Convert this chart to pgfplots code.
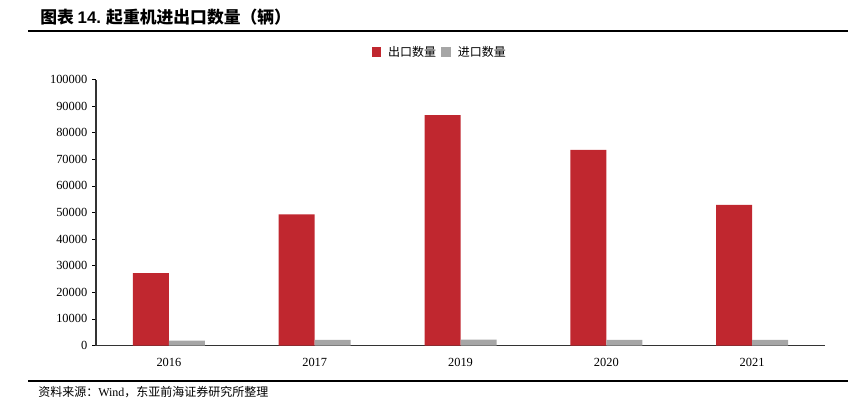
\documentclass[border=0pt]{standalone}
\usepackage{pgfplots}
\pgfplotsset{compat=1.18}
\usepackage{fontspec}
\setmainfont{Liberation Serif}
\newfontfamily\cjk{Noto Sans CJK SC}
\newfontfamily\lsans{Liberation Sans}
\definecolor{expred}{RGB}{192,39,47}
\definecolor{impgrey}{RGB}{166,166,166}
\begin{document}
\begin{tikzpicture}[x=0.75pt,y=0.75pt]
\useasboundingbox (0,0) rectangle (848,404);
\coordinate (O) at (96,58.5);
% title
\node[anchor=base west,inner sep=0] at (40,380) {\fontsize{12.6}{14}\selectfont\cjk\bfseries 图表 {\lsans\bfseries 14.} 起重机进出口数量（辆）};
\draw[line width=1.6pt] (28,373) -- (848,373);
% footer
\draw[line width=1.6pt] (28,23) -- (848,23);
\node[anchor=base west,inner sep=0] at (38,8) {\fontsize{9}{10}\selectfont\cjk 资料来源：\rmfamily Wind\cjk ，东亚前海证券研究所整理};
\begin{axis}[
  at={(O)}, anchor=south west,
  scale only axis,
  width=546.75pt, height=199.5pt,
  ybar=0pt, bar width=27pt,
  xmin=-0.5, xmax=4.5,
  ymin=0, ymax=100000,
  ytick={0,10000,...,100000},
  xtick=data,
  xticklabels={2016,2017,2019,2020,2021},
  axis x line*=bottom, axis y line*=left,
  axis line style={-, line width=0.8pt, color=black!80},
  tick align=outside,
  ytick style={line width=0.6pt, black},
  major tick length=3pt,
  xtick style={draw=none},
  scaled y ticks=false,
  /pgf/number format/fixed,
  /pgf/number format/1000 sep={},
  /pgf/number format/assume math mode=true,
  ticklabel style={font=\fontsize{9.3}{11}\selectfont},
  xticklabel style={yshift=-3pt},
  legend style={at={(axis description cs:0.472,1.103)}, anchor=center, draw=none, legend columns=2,
    font=\fontsize{9}{11}\selectfont\cjk, column sep=3pt,
    /tikz/every even column/.append style={column sep=2pt}},
  legend image code/.code={\draw[#1,draw=none] (0cm,-0.13cm) rectangle (0.26cm,0.13cm);},
]
\addplot[fill=expred, draw=none] coordinates {(0,27200) (1,49300) (2,86600) (3,73500) (4,52900)};
\addplot[fill=impgrey, draw=none] coordinates {(0,1800) (1,2100) (2,2200) (3,2100) (4,2100)};
\legend{出口数量,进口数量}
\end{axis}
\end{tikzpicture}
\end{document}
